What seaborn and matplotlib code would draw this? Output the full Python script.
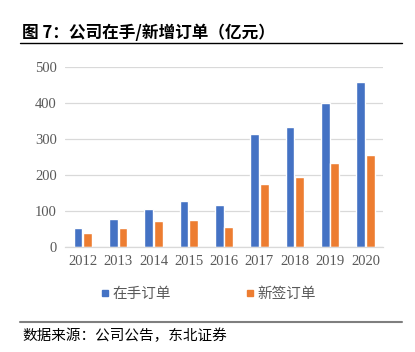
import pandas as pd
import matplotlib
matplotlib.use("Agg")
import matplotlib.pyplot as plt
import seaborn as sns
from matplotlib.lines import Line2D

# data
years = ["2012", "2013", "2014", "2015", "2016", "2017", "2018", "2019", "2020"]
backlog = [51, 77, 106, 128, 116, 312, 332, 398, 456]   # 在手订单
new_orders = [38, 53, 71, 73, 56, 175, 194, 232, 255]  # 新签订单
series = ["在手订单", "新签订单"]
colors = ["#4472C4", "#ED7D31"]

df = pd.DataFrame({
    "year": years * 2,
    "value": backlog + new_orders,
    "series": [series[0]] * len(years) + [series[1]] * len(years),
})

sns.set_style("white")
plt.rcParams['font.family'] = ['Noto Sans CJK SC', 'DejaVu Sans']

fig = plt.figure(figsize=(4.15, 3.52), dpi=100)
ax = fig.add_axes([0.157, 0.299, 0.766, 0.512])

sns.barplot(data=df, x="year", y="value", hue="series", palette=colors,
            width=0.54, gap=0.08, ax=ax, legend=False, saturation=1)

ax.set_ylim(0, 500)
ax.set_yticks(range(0, 501, 100))
ax.set_xlim(-0.5, len(years) - 0.5)
ax.yaxis.grid(True, color="#D9D9D9", linewidth=0.9)
ax.set_axisbelow(True)
for s in ["top", "right", "left"]:
    ax.spines[s].set_visible(False)
ax.spines["bottom"].set_color("#D9D9D9")
ax.spines["bottom"].set_linewidth(0.9)
ax.set_xlabel("")
ax.set_ylabel("")
ax.tick_params(length=0, pad=6, colors="#595959")
for lab in ax.get_xticklabels() + ax.get_yticklabels():
    lab.set_family("Liberation Serif")
    lab.set_fontsize(10.5)
    lab.set_color("#595959")

# legend
handles = [Line2D([0], [0], marker="s", linestyle="", markersize=5,
                  markerfacecolor=c, markeredgecolor=c) for c in colors]
fig.legend(handles, series, loc="center", bbox_to_anchor=(0.5, 0.165), ncol=2,
           frameon=False, fontsize=10.5, handletextpad=0.1, columnspacing=5.0,
           labelcolor="#595959", handlelength=0.8)

# title and source
fig.text(0.053, 0.905, "图 7：公司在手/新增订单（亿元）", fontsize=12,
         fontweight="bold", va="center", ha="left", color="black")
fig.add_artist(Line2D([0.048, 0.969], [0.877, 0.877], color="black", linewidth=1.0))
fig.add_artist(Line2D([0.048, 0.969], [0.086, 0.086], color="#7F7F7F", linewidth=1.5))
fig.text(0.053, 0.045, "数据来源：公司公告，东北证券", fontsize=10.5,
         va="center", ha="left", color="black")

fig.savefig("out.png", dpi=100)
